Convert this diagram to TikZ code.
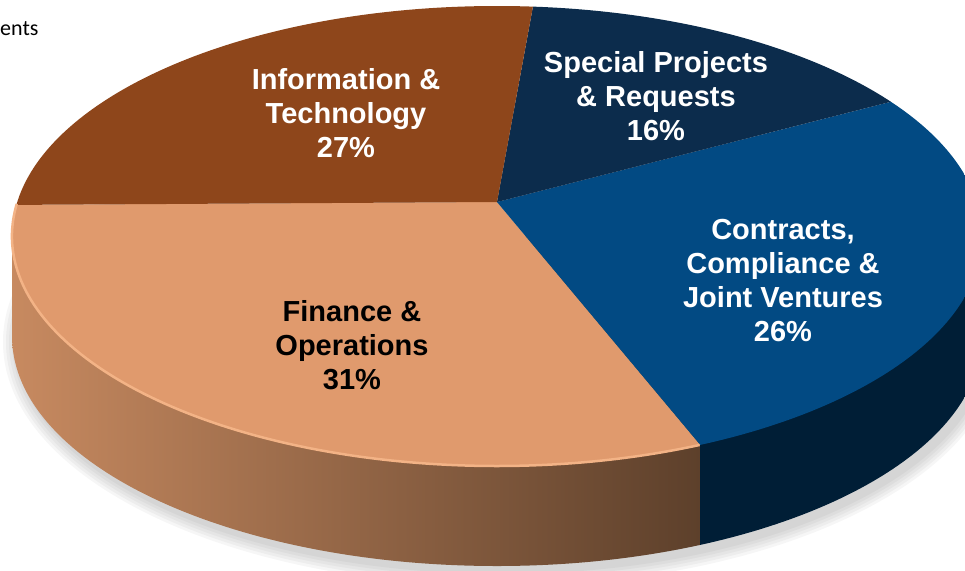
\documentclass[tikz,border=0pt]{standalone}
\usepackage{fontspec}
\newfontfamily\labfont{Liberation Sans}
\newfontfamily\notefont{Carlito}
\definecolor{itbrown}{HTML}{8E461B}
\definecolor{spnavy}{HTML}{0C2C4C}
\definecolor{ccblue}{HTML}{024A83}
\definecolor{fotan}{HTML}{E09A6D}
\definecolor{sidelight}{HTML}{C98B61}
\definecolor{sidedark}{HTML}{5D402B}
\definecolor{sidenavy}{HTML}{001E36}
\definecolor{rimlight}{HTML}{F3B386}
\tikzset{slice label/.style={align=center,text=white,inner sep=0pt,font=\labfont\bfseries\fontsize{29}{34}\selectfont},
note/.style={anchor=base west,inner sep=0pt,font=\notefont\fontsize{22}{26}\selectfont}}

\begin{document}
\begin{tikzpicture}[x=1pt,y=1pt,rim/.style={x radius=485,y radius=230}]
\useasboundingbox (0,0) rectangle (965,-570);
\foreach \s in {3,6,9,12,15} \fill[black,opacity=0.035] (502,-342) ellipse [x radius=484+\s,y radius=229+\s];
\begin{scope}
\clip (12,-236) -- (12,-336) arc[start angle=180,end angle=360,rim] -- (982,-236) -- cycle;
\shade[left color=sidelight,right color=sidedark] (0,-200) rectangle (700,-600);
\fill[sidenavy] (700,-200) rectangle (1000,-600);
\end{scope}
\coordinate (apex) at (497,-202);
\coordinate (fo end) at (830,-600);
\coordinate (cc end) at (1000,-74);
\coordinate (sp end) at (536,10);
\coordinate (it end) at (0,-205);
\begin{scope}
\clip (497,-236) ellipse [rim];
\fill[fotan] (apex) -- (it end) -- (0,-600) -- (fo end) -- cycle;
\fill[ccblue] (apex) -- (fo end) -- (1000,-600) -- (cc end) -- cycle;
\fill[spnavy] (apex) -- (cc end) -- (1000,10) -- (sp end) -- cycle;
\fill[itbrown] (apex) -- (sp end) -- (0,10) -- (it end) -- cycle;
\end{scope}
\draw[rimlight,line width=2.5] (497,-236) ++(172:485 and 230) arc[start angle=172,end angle=294.7,rim];
\node[slice label] (it) at (346,-113) {Information \&\\Technology\\27\%};
\node[slice label] (sp) at (656,-96) {Special Projects\\\& Requests\\16\%};
\node[slice label] (cc) at (783,-281) {Contracts,\\Compliance \&\\Joint Ventures\\26\%};
\node[slice label,text=black] (fo) at (352,-345) {Finance \&\\Operations\\31\%};
\node[note] (title) at (0,-35) {ents};
\end{tikzpicture}
\end{document}
